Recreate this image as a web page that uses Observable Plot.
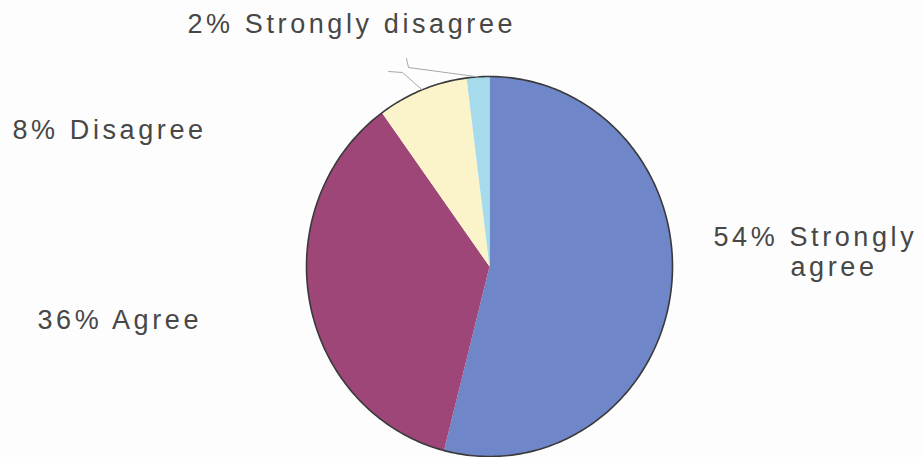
<!DOCTYPE html>
<html>
<head>
<meta charset="utf-8">
<script src="https://cdn.jsdelivr.net/npm/d3@7"></script>
<script src="https://cdn.jsdelivr.net/npm/@observablehq/plot@0.6"></script>
<style>
  html, body { margin: 0; padding: 0; background: #fdfdfd; }
  #chart svg text { letter-spacing: 3.6px; }
</style>
</head>
<body>
<div id="chart"></div>
<script>
// ---- data ----
const categories = ["Strongly agree", "Agree", "Disagree", "Strongly disagree"];
const values = [54, 36, 8, 2];
const labels = ["54% Strongly\nagree", "36% Agree", "8% Disagree", "2% Strongly disagree"];
const colors = ["#6f86c8", "#9e4678", "#fbf3c9", "#a6dbec"];
const leaderFor = ["Disagree", "Strongly disagree"];

// ---- layout (pixels) ----
const W = 923, H = 457;
const cx = 489, rx = 183, cy = 266, ry = 190;
const toX = px => (px - cx) / rx;
const toY = py => (cy - py) / ry;
// label anchor (left edge, baseline) per line
const labelPos = {
  "Strongly agree": [[713, 245], [790, 275]],
  "Agree": [[37, 328]],
  "Disagree": [[12, 138]],
  "Strongly disagree": [[187, 32]]
};
// leader-line elbows (pixels)
const leaderPts = {
  "Disagree": [[402, 72], [388, 71]],
  "Strongly disagree": [[408, 67], [406, 58]]
};

// ---- geometry from data ----
const arcs = d3.pie().sort(null).value((d, i) => values[i])(categories);
const slicePts = [];
arcs.forEach((a, i) => {
  const cat = categories[i];
  slicePts.push({cat, x: 0, y: 0});
  const n = Math.max(2, Math.ceil((a.endAngle - a.startAngle) / 0.01));
  for (let k = 0; k <= n; k++) {
    const t = a.startAngle + (a.endAngle - a.startAngle) * k / n;
    slicePts.push({cat, x: Math.sin(t), y: Math.cos(t)});
  }
});
const outline = d3.range(0, 361).map(d => {
  const t = d * Math.PI / 180;
  return {x: Math.sin(t), y: Math.cos(t)};
});
const leaders = [];
arcs.forEach((a, i) => {
  const cat = categories[i];
  if (!leaderFor.includes(cat)) return;
  const m = (a.startAngle + a.endAngle) / 2;
  leaders.push({cat, x: Math.sin(m), y: Math.cos(m)});
  leaderPts[cat].forEach(([px, py]) => leaders.push({cat, x: toX(px), y: toY(py)}));
});
const textRows = [];
categories.forEach((cat, i) => {
  labels[i].split("\n").forEach((line, j) => {
    const [px, py] = labelPos[cat][j];
    textRows.push({text: line, x: toX(px), y: toY(py)});
  });
});

const chart = Plot.plot({
  width: W, height: H,
  margin: 0,
  style: {background: "#fdfdfd", fontFamily: "'Liberation Sans', Arial, sans-serif"},
  x: {domain: [-1, 1], range: [cx - rx, cx + rx], axis: null},
  y: {domain: [-1, 1], range: [cy + ry, cy - ry], axis: null},
  color: {domain: categories, range: colors},
  marks: [
    Plot.line(slicePts, {x: "x", y: "y", z: "cat", fill: "cat", stroke: "none", curve: "linear-closed"}),
    Plot.line(outline, {x: "x", y: "y", stroke: "#3a3a3a", strokeWidth: 1.6, curve: "linear-closed"}),
    Plot.line(leaders, {x: "x", y: "y", z: "cat", stroke: "#a8a8a8", strokeWidth: 1}),
    Plot.text(textRows, {x: "x", y: "y", text: "text", textAnchor: "start", lineAnchor: "bottom",
      fontSize: 27, fill: "#474747"})
  ]
});
document.getElementById("chart").appendChild(chart);
</script>
</body>
</html>
